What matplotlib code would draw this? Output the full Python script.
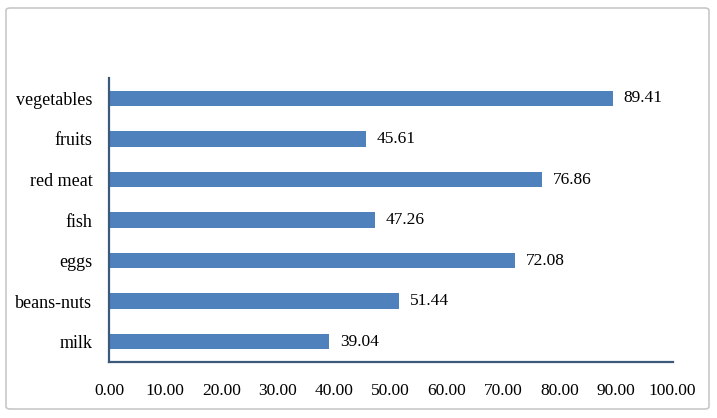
import matplotlib
matplotlib.use('Agg')
import matplotlib.pyplot as plt
from matplotlib.patches import FancyBboxPatch

# data (bottom to top)
foods = ['milk', 'beans-nuts', 'eggs', 'fish', 'red meat', 'fruits', 'vegetables']
values = [39.04, 51.44, 72.08, 47.26, 76.86, 45.61, 89.41]
xticks = [0, 10, 20, 30, 40, 50, 60, 70, 80, 90, 100]

plt.rcParams['font.family'] = ['Liberation Serif', 'DejaVu Serif']

fig = plt.figure(figsize=(7.17, 4.18), dpi=100)
ax = fig.add_axes([0.152, 0.134, 0.786, 0.679])

# outer chart frame
frame = FancyBboxPatch((6 / 717, 9 / 418), 703 / 717, 401 / 418,
                       boxstyle='round,pad=0,rounding_size=0.006',
                       transform=fig.transFigure, fc='none', ec='#c8c8c8', lw=1.2)
fig.patches.append(frame)

pos = range(len(foods))
ax.barh(pos, values, height=0.38, color='#4f81bd')
for y, v in zip(pos, values):
    ax.text(v + 1.9, y, f'{v:.2f}', va='center', ha='left', fontsize=12.5)

ax.set_xlim(0, 100)
ax.set_ylim(-0.5, len(foods) - 0.5)
ax.set_yticks(list(pos))
ax.set_yticklabels(foods, fontsize=13)
ax.set_xticks(xticks)
ax.set_xticklabels([f'{t:.2f}' for t in xticks], fontsize=12.5)
ax.tick_params(axis='y', length=0, pad=12)
ax.tick_params(axis='x', length=0, pad=15)

for s in ['top', 'right']:
    ax.spines[s].set_visible(False)
for s in ['left', 'bottom']:
    ax.spines[s].set_color('#3b5978')
    ax.spines[s].set_linewidth(1.6)

fig.savefig('out.png', dpi=100)
